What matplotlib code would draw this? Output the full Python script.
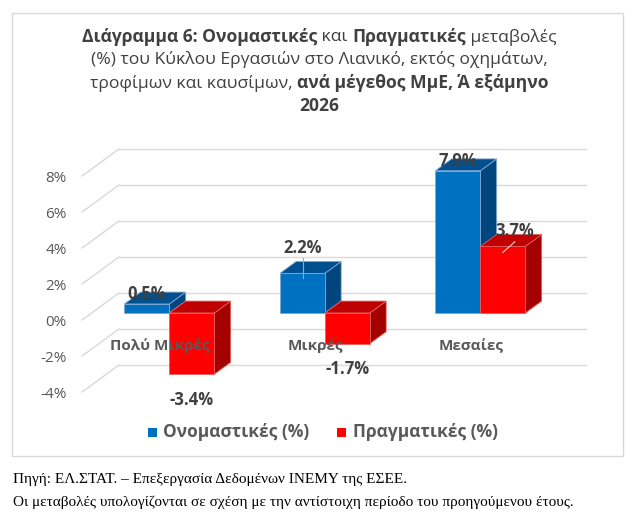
import numpy as np
import matplotlib.pyplot as plt
from matplotlib.patches import Polygon, Rectangle

# ── Data ─────────────────────────────────────────────
categories = ['Πολύ Μικρές', 'Μικρές', 'Μεσαίες']
nominal = [0.5, 2.2, 7.9]      # Ονομαστικές (%)
real = [-3.4, -1.7, 3.7]       # Πραγματικές (%)
series_names = ['Ονομαστικές (%)', 'Πραγματικές (%)']
yticks = [-4, -2, 0, 2, 4, 6, 8]

# ── Style / layout ───────────────────────────────────
FONT = ['Open Sans', 'Noto Sans', 'DejaVu Sans']
SERIF = ['Liberation Serif', 'DejaVu Serif']
GRAY = '#595959'
DARK = '#404040'
GRID = '#d9d9d9'
cols = {
    'blue': ('#0070c0', '#004f8f', '#00457e'),   # front, top, side
    'red':  ('#ff0000', '#c00000', '#a50000'),
}

W, H = 639, 528
X0, CATW = 82, 155.5            # left of floor (front), width per category
BARW = 45
KX, KY = 37, 1.5                # depth offset: px in x, % in y
D0, D1 = 0.26, 0.70             # depth span of bars


def proj(x, v, d):
    return x + KX * d, v + KY * d


fig = plt.figure(figsize=(W / 100, H / 100), dpi=100)
ax = fig.add_axes([0, 0, 1, 1])
ax.set_xlim(0, W)
ax.set_ylim((320 - H) / 18, 320 / 18)
ax.axis('off')

# outer chart border
fig.patches.append(Rectangle((12 / W, 1 - 456 / H), 611 / W, 443 / H,
                             transform=fig.transFigure, fill=False,
                             edgecolor=GRID, lw=1))

# ── Walls / gridlines ────────────────────────────────
xr_floor = X0 + CATW * len(categories)
for v in yticks:
    a = proj(X0, v, 0)
    b = proj(X0, v, 1)
    c = proj(xr_floor, v, 1)
    ax.plot([a[0], b[0]], [a[1], b[1]], color=GRID, lw=1, zorder=1)
    ax.plot([b[0], c[0]], [b[1], c[1]], color=GRID, lw=1, zorder=1)
    ax.text(67, v - 0.12, f'{v}%', ha='right', va='center', color=GRAY,
            fontsize=11, family=FONT)


def bar3d(xl, val, colset, z):
    xr = xl + BARW
    vt, vb = max(val, 0), min(val, 0)
    front = [proj(xl, vb, D0), proj(xr, vb, D0), proj(xr, vt, D0), proj(xl, vt, D0)]
    top = [proj(xl, vt, D0), proj(xr, vt, D0), proj(xr, vt, D1), proj(xl, vt, D1)]
    side = [proj(xr, vb, D0), proj(xr, vb, D1), proj(xr, vt, D1), proj(xr, vt, D0)]
    ec = '#7fa7d4' if colset is cols['blue'] else '#e06060'
    for poly, fc in [(side, colset[2]), (top, colset[1]), (front, colset[0])]:
        ax.add_patch(Polygon(poly, closed=True, facecolor=fc, edgecolor=ec,
                             lw=0.6, zorder=z))
    return xl + BARW / 2 + KX * D0


label_kw = dict(ha='center', va='center', color=DARK, fontsize=12,
                fontweight='bold', family=FONT, zorder=20)
# nudges (px, %) for labels Excel moved away with leader lines
nudge = {(0, 1): (0, 0.85), (1, 2): (12, 0.3)}

z = 2
for i, cat in enumerate(categories):
    c = X0 + (i + 0.5) * CATW
    for s, (vals, cset) in enumerate([(nominal, cols['blue']), (real, cols['red'])]):
        val = vals[i]
        xc = bar3d(c - BARW + s * BARW, val, cset, z)
        z += 1
        dx, dv = nudge.get((s, i), (0, 0))
        if val >= 0:
            ly = val + 0.95 + dv
        else:
            ly = val - 1.05
        ax.text(xc + dx, ly, f'{val:.1f}%', **label_kw)
        if (s, i) == (0, 1):
            ax.plot([xc + 1, xc + 1], [val + 0.15, ly - 0.55], color='#a6a6a6',
                    lw=0.8, zorder=19)
        if (s, i) == (1, 2):
            ax.plot([xc + dx, xc], [ly - 0.6, val + 0.05], color='#d9d9d9',
                    lw=0.8, zorder=19)
    ax.text(c, -1.42, cat, ha='center', va='center', color=GRAY, fontsize=11,
            fontweight='bold', family=FONT, zorder=20)

# ── Legend ───────────────────────────────────────────
for sq_x, txt_x, name, cset in [(148, 163, series_names[0], cols['blue']),
                                (337, 353, series_names[1], cols['red'])]:
    fig.patches.append(Rectangle((sq_x / W, 1 - 437 / H), 9 / W, 9 / H,
                                 transform=fig.transFigure,
                                 facecolor=cset[0], edgecolor='none'))
    fig.text(txt_x / W, 1 - 432 / H, name, ha='left', va='center', color=GRAY,
             fontsize=12.5, fontweight='bold', family=FONT)

# ── Title (mixed bold / normal) ──────────────────────
title_lines = [
    [('Διάγραμμα 6: Ονομαστικές', 'bold'), (' και ', 'normal'),
     ('Πραγματικές', 'bold'), (' μεταβολές', 'normal')],
    [('(%) του Κύκλου Εργασιών στο Λιανικό, εκτός οχημάτων,', 'normal')],
    [('τροφίμων και καυσίμων, ', 'normal'), ('ανά μέγεθος ΜμΕ, Ά εξάμηνο', 'bold')],
    [('2026', 'bold')],
]
line_y = [37, 60, 83, 106]
renderer = fig.canvas.get_renderer()
for parts, py in zip(title_lines, line_y):
    texts = [fig.text(0, 1 - py / H, t, ha='left', va='center', color=DARK,
                      fontsize=12.6, fontweight=w, family=FONT)
             for t, w in parts]
    widths = [t.get_window_extent(renderer).width for t in texts]
    x = 319 - sum(widths) / 2
    for t, wd in zip(texts, widths):
        t.set_x(x / W)
        x += wd

# ── Footnotes ────────────────────────────────────────
fig.text(13 / W, 1 - 479 / H, 'Πηγή: ΕΛ.ΣΤΑΤ. – Επεξεργασία Δεδομένων ΙΝΕΜΥ της ΕΣΕΕ.',
         ha='left', va='center', fontsize=11, family=SERIF, color='black')
fig.text(13 / W, 1 - 502 / H,
         'Οι μεταβολές υπολογίζονται σε σχέση με την αντίστοιχη περίοδο του προηγούμενου έτους.',
         ha='left', va='center', fontsize=11, family=SERIF, color='black')

plt.savefig('out.png', dpi=100)
